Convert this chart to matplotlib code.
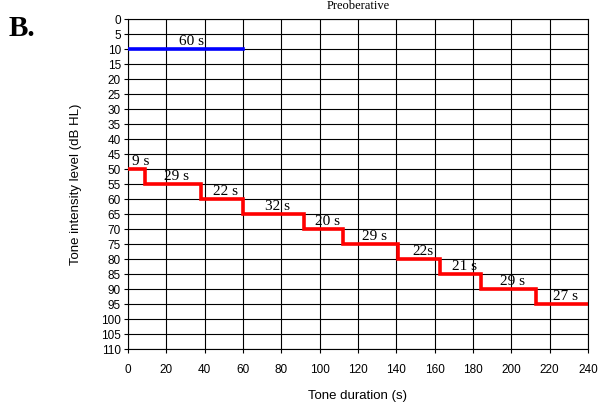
import matplotlib
matplotlib.use("Agg")
import matplotlib.pyplot as plt

# red staircase: durations (s) and levels (dB HL)
durees = [9, 29, 22, 32, 20, 29, 22, 21, 29, 27]
niveaux = [50, 55, 60, 65, 70, 75, 80, 85, 90, 95]
etiquettes = ["9 s", "29 s", "22 s", "32 s", "20 s", "29 s", "22s", "21 s", "29 s", "27 s"]

# blue line
bleu_duree = 60
bleu_niveau = 10
bleu_etiquette = "60 s"

x_ticks = list(range(0, 241, 20))
y_ticks = list(range(0, 111, 5))

fig = plt.figure(figsize=(6, 4.07), dpi=100)
ax = fig.add_axes([0.2133, 0.1425, 0.7667, 0.8108])

# build the step path
xs, ys = [], []
t = 0
for d, n in zip(durees, niveaux):
    xs += [t, t + d]
    ys += [n, n]
    t += d
ax.plot(xs, ys, color="#ff0000", linewidth=2.6, solid_joinstyle="miter", zorder=3)

ax.plot([0, bleu_duree], [bleu_niveau, bleu_niveau], color="#0000ff", linewidth=2.6, zorder=3)
ax.text(bleu_duree / 2 + 3, bleu_niveau - 0.5, bleu_etiquette, ha="center", va="bottom",
        family="Liberation Serif", fontsize=11)

t = 0
for d, n, lab in zip(durees, niveaux, etiquettes):
    ax.text(t + d / 2 + 2, n - 0.5, lab, ha="center", va="bottom",
            family="Liberation Serif", fontsize=11, zorder=4)
    t += d

ax.set_xlim(0, 240)
ax.set_ylim(110, 0)
ax.set_xticks(x_ticks)
ax.set_yticks(y_ticks)
ax.grid(True, color="black", linewidth=0.8)
ax.set_axisbelow(True)
for s in ax.spines.values():
    s.set_color("black")
    s.set_linewidth(0.8)
ax.tick_params(axis="both", labelsize=8.5, direction="out", length=3, width=0.8)
for lab in ax.get_xticklabels() + ax.get_yticklabels():
    lab.set_family("Liberation Sans")
ax.tick_params(axis="x", pad=8)
ax.tick_params(axis="y", pad=2)

ax.set_xlabel("Tone duration (s)", family="Liberation Sans", fontsize=9.5, labelpad=10)
ax.set_ylabel("Tone intensity level (dB HL)", family="Liberation Sans", fontsize=9.5, labelpad=14)

fig.text(0.597, 1.0, "Preoberative", ha="center", va="top",
         family="Liberation Serif", fontsize=9)
fig.text(0.015, 0.93, "B.", family="Liberation Serif", fontsize=21, fontweight="bold",
         ha="left", va="center")

fig.savefig("out.png", dpi=100)
